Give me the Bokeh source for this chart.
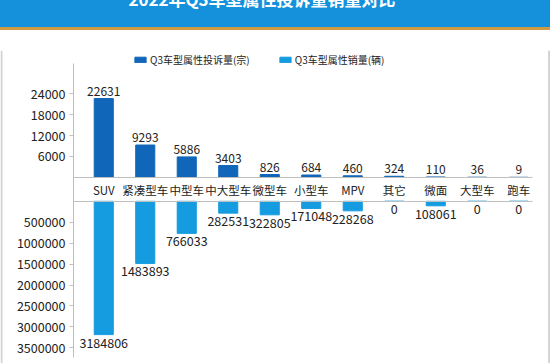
from bokeh.plotting import figure
from bokeh.models import (Range1d, LinearAxis, FixedTicker, BasicTickFormatter, Span,
                          Legend, LegendItem, ColumnDataSource, Div)
from bokeh.layouts import column
from bokeh.core.properties import value
from bokeh.embed import file_html
from bokeh.resources import INLINE

categories = ["SUV", "紧凑型车", "中型车", "中大型车", "微型车", "小型车", "MPV", "其它", "微面", "大型车", "跑车"]
complaints = [22631, 9293, 5886, 3403, 826, 684, 460, 324, 110, 36, 9]
sales = [3184806, 1483893, 766033, 282531, 322805, 171048, 228268, 0, 108061, 0, 0]
complaint_ticks = [6000, 12000, 18000, 24000]
sales_ticks = [500000, 1000000, 1500000, 2000000, 2500000, 3000000, 3500000]
title_text = "2022年Q3车型属性投诉量销量对比"
legend_labels = ["Q3车型属性投诉量(宗)", "Q3车型属性销量(辆)"]

FONT = "Noto Sans CJK SC"
DARK = "#1066B8"
LIGHT = "#159BE0"
GRAY = "#bfbfbf"
BORDER = "#d4d4d4"
TXT = "#222222"

n = len(categories)
xs = [i + 0.5 for i in range(n)]          # slot centres on the category scale
src = ColumnDataSource(dict(
    x=xs, complaints=complaints, sales=sales,
    clab=[str(v) for v in complaints], slab=[str(v) for v in sales]))

# layout geometry (pixels)
W, H_FIG = 550, 333
SLOT0, SLOT_W = 82.5, 41.5            # left edge of first slot, slot width
AXIS_X, AXIS_R = 73, 532              # y-axis position, right end of baselines


def px_to_x(px):
    return (px - SLOT0) / SLOT_W


p = figure(width=W, height=H_FIG,
           x_range=Range1d(px_to_x(0), px_to_x(W)),
           y_range=Range1d(-53426, 36430),
           output_backend="svg", toolbar_location=None,
           x_axis_location=None, y_axis_location=None,
           min_border_left=0, min_border_right=0, min_border_top=20, min_border_bottom=0)
p.extra_y_ranges = {"sales": Range1d(start=3874800, end=-3602500)}
p.grid.visible = False
p.outline_line_color = None
p.background_fill_color = "white"
p.border_fill_color = "white"

# chart-area side borders
p.add_layout(Span(location=px_to_x(1), dimension="height", line_color=BORDER, line_width=2))
p.add_layout(Span(location=px_to_x(548.5), dimension="height", line_color=BORDER, line_width=2))

x_bounds = (px_to_x(AXIS_X), px_to_x(AXIS_R))
# category axis at complaint zero
xax = LinearAxis(fixed_location=0, bounds=x_bounds, ticker=FixedTicker(ticks=xs),
                 major_label_overrides={x: c for x, c in zip(xs, categories)},
                 axis_line_color=GRAY, major_tick_line_color=None, major_tick_out=0,
                 major_tick_in=0, minor_tick_line_color=None, major_label_standoff=5,
                 major_label_text_font=FONT, major_label_text_font_size="11.5px",
                 major_label_text_color=TXT)
p.add_layout(xax, "below")
# baseline of the sales bars
bax = LinearAxis(y_range_name="sales", fixed_location=0, bounds=x_bounds,
                 ticker=FixedTicker(ticks=[]), axis_line_color=GRAY,
                 major_tick_line_color=None, minor_tick_line_color=None)
p.add_layout(bax, "below")

common = dict(major_tick_line_color=GRAY, major_tick_out=4, major_tick_in=0,
              minor_tick_line_color=None, major_label_standoff=4,
              major_label_text_font=FONT, major_label_text_font_size="12.5px",
              major_label_text_color=TXT)
yax = LinearAxis(fixed_location=px_to_x(AXIS_X), ticker=FixedTicker(ticks=complaint_ticks),
                 formatter=BasicTickFormatter(use_scientific=False),
                 bounds=(-51700, 32700), axis_line_color=GRAY, **common)
p.add_layout(yax, "left")
sax = LinearAxis(y_range_name="sales", fixed_location=px_to_x(AXIS_X),
                 ticker=FixedTicker(ticks=sales_ticks),
                 formatter=BasicTickFormatter(use_scientific=False),
                 axis_line_color=None, **common)
p.add_layout(sax, "left")

r1 = p.vbar(x="x", top="complaints", bottom=0, width=0.46, color=DARK, source=src)
r2 = p.vbar(x="x", top="sales", bottom=0, width=0.46, color=LIGHT, source=src,
            y_range_name="sales")

p.text(x="x", y="complaints", text="clab", source=src, text_align="center",
       text_baseline="bottom", y_offset=-3, text_font=value(FONT),
       text_font_size="12px", text_color=TXT)
p.text(x="x", y="sales", text="slab", source=src, y_range_name="sales",
       text_align="center", text_baseline="top", y_offset=3, text_font=value(FONT),
       text_font_size="12.5px", text_color=TXT)

legend = Legend(items=[LegendItem(label=legend_labels[0], renderers=[r1]),
                       LegendItem(label=legend_labels[1], renderers=[r2])],
                orientation="horizontal", location=(133, 296),
                padding=0, margin=0, spacing=28, label_standoff=3,
                glyph_width=14, glyph_height=7, label_height=12,
                label_text_font=FONT, label_text_font_size="10px", label_text_color=TXT,
                border_line_color=None, background_fill_alpha=0)
p.add_layout(legend, "center")

title_div = Div(
    text=('<div style="width:524px;text-align:center;position:relative;top:-11px;color:white;'
          'font-family:\'Noto Sans CJK SC\';font-weight:bold;font-size:17px;line-height:19px;'
          'white-space:nowrap;">' + title_text + '</div>'),
    width=W, height=30, margin=0,
    styles={"background-color": "#1591DC", "border-bottom": "3px solid #D09A40",
            "overflow": "hidden", "box-sizing": "border-box"})

layout = column(title_div, p, spacing=0)
open("out.html", "w").write(file_html(layout, INLINE))
